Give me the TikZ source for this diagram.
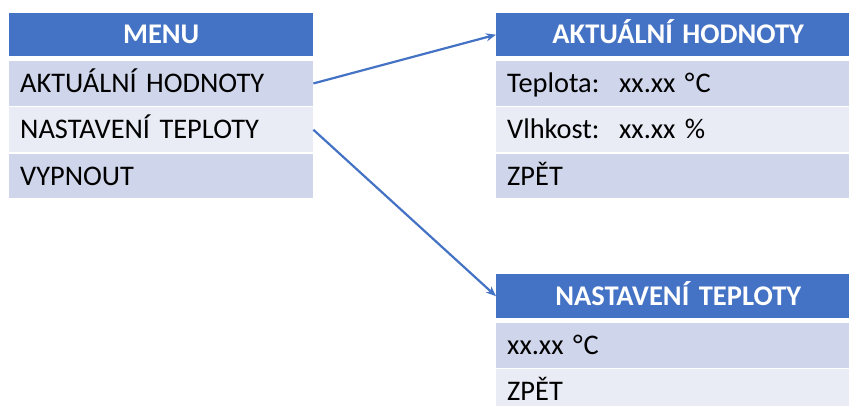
\documentclass[tikz,border=0pt]{standalone}
\usepackage{fontspec}
\setmainfont{Carlito}
\usetikzlibrary{arrows.meta}
\definecolor{hdr}{HTML}{4472C4}
\definecolor{rowa}{HTML}{CFD5EA}
\definecolor{rowb}{HTML}{E9EBF5}
\begin{document}
\begin{tikzpicture}[x=1pt,y=-1pt,
  cellbase/.style={anchor=north west, inner xsep=11pt, inner ysep=0pt,
    text height=18.5pt, text depth=0pt, minimum height=#1},
  hdrcell/.style={cellbase=#1, fill=hdr, text=white, align=center,
    font=\fontsize{28.5pt}{33pt}\selectfont\bfseries},
  rowcell/.style={cellbase=44.5pt, align=left, text=black,
    font=\fontsize{28.4pt}{33pt}\selectfont},
  oddrow/.style={rowcell, fill=rowa},
  evenrow/.style={rowcell, fill=rowb},
  conn/.style={draw=hdr, line width=2.2pt, -{Stealth[length=10pt,width=8pt]}}
]
\clip (0,0) rectangle (849,406);
\fill[white] (0,0) rectangle (849,406);
% left menu
\node[hdrcell=43pt, text width=282pt] (mh) at (9,13) {MENU};
\node[oddrow, text width=282pt] (m1) at (9,61) {AKTUÁLNÍ HODNOTY};
\node[evenrow, text width=282pt] (m2) at (9,107.3) {NASTAVENÍ TEPLOTY};
\node[oddrow, text width=282pt] (m3) at (9,153.6) {VYPNOUT};
% right top
\node[hdrcell=43pt, text width=342pt] (a0) at (496,13) {AKTUÁLNÍ HODNOTY};
\node[oddrow, text width=342pt] (a1) at (496,61) {\makebox[112pt][l]{Teplota:}xx.xx °\kern1pt C};
\node[evenrow, text width=342pt] (a2) at (496,107.3) {\makebox[112pt][l]{Vlhkost:}xx.xx \%};
\node[oddrow, text width=342pt] (a3) at (496,153.6) {ZPĚT};
% right bottom
\node[hdrcell=44pt, text width=342pt] (n0) at (496,274) {NASTAVENÍ TEPLOTY};
\node[oddrow, text width=342pt] (n1) at (496,323) {xx.xx °\kern1pt C};
\node[evenrow, text width=342pt, minimum height=37pt] (n2) at (496,369) {\raisebox{-3.25pt}{ZPĚT}};
% connectors
\draw[conn] (m1.east) -- (a0.west);
\draw[conn] (m2.east) -- (n0.west);
\end{tikzpicture}
\end{document}
